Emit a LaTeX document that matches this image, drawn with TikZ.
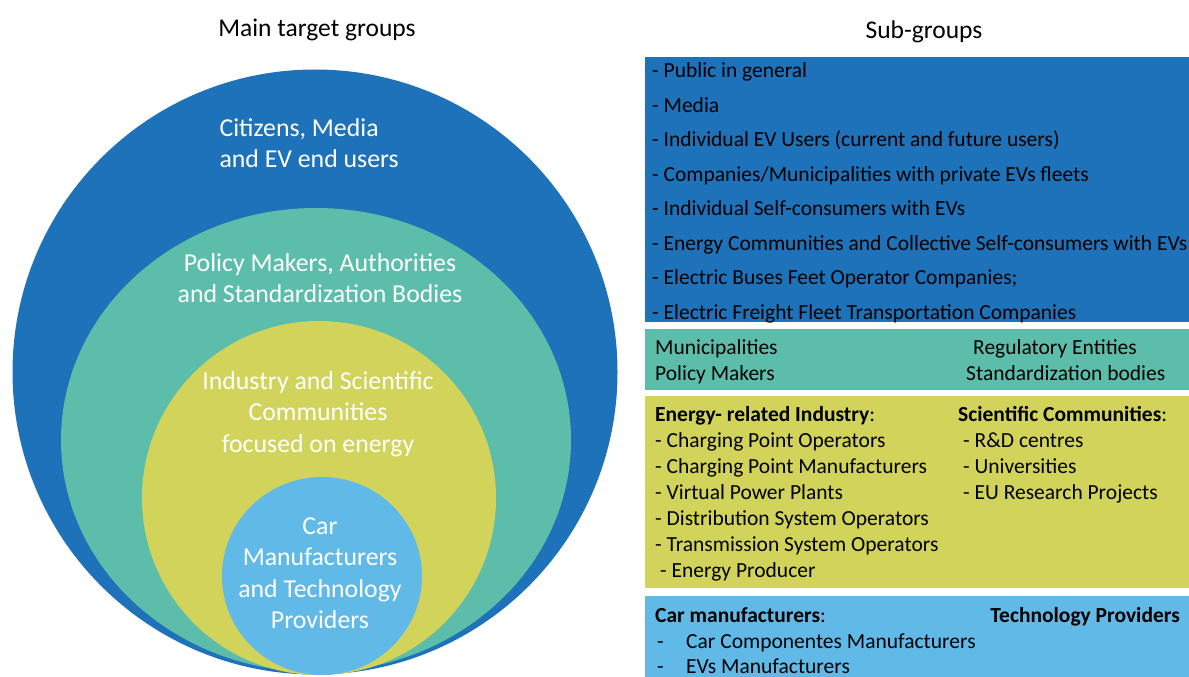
\documentclass[tikz,border=0pt]{standalone}
\usepackage{fontspec}
\setmainfont{Carlito}
\usetikzlibrary{shapes.geometric}

\definecolor{evblue}{RGB}{30,114,185}
\definecolor{evteal}{RGB}{92,190,170}
\definecolor{evyellow}{RGB}{209,211,90}
\definecolor{evsky}{RGB}{96,185,230}

\begin{document}
\begin{tikzpicture}[x=1pt,y=-1pt,
	ring/.style={ellipse, inner sep=0pt},
	ringtext/.style={text=white, align=center, font=\fontsize{25.8}{31.5}\selectfont},
	head/.style={font=\fontsize{25.5}{30}\selectfont},
	box/.style={rectangle, anchor=north west, minimum width=544pt, inner sep=0pt},
	item/.style={anchor=west, inner sep=0pt, text height=18pt, text depth=3pt,
		font=\fontsize{21.5}{26}\selectfont}]
	\useasboundingbox[fill=white] (0,0) rectangle (1189,677);

	% nested target groups
	\node[ring, fill=evblue, minimum width=605pt, minimum height=605pt] (citizens) at (315,372) {};
	\node[ring, fill=evteal, minimum width=510pt, minimum height=464pt] (policy) at (316,440) {};
	\node[ring, fill=evyellow, minimum width=354pt, minimum height=354pt] (industry) at (319,498) {};
	\node[ring, fill=evsky, minimum width=200pt, minimum height=198pt] (carmakers) at (322,576) {};

	\node[ringtext, align=left, anchor=west] (citizenstxt) at (216,143) {Citizens, Media\\and EV end users};
	\node[ringtext] (policytxt) at (320,278) {Policy Makers, Authorities\\and Standardization Bodies};
	\node[ringtext] (industrytxt) at (318,414) {Industry and Scientific\\Communities\\focused on energy};
	\node[ringtext] (carmakerstxt) at (320,573) {Car\\Manufacturers\\and Technology\\Providers};

	\node[head] (maintitle) at (317,30) {Main target groups};
	\node[head] (subtitle) at (924,32) {Sub-groups};

	% sub-group boxes
	\node[box, fill=evblue, minimum height=265pt] (citizensbox) at (645,57) {};
	\node[box, fill=evteal, minimum height=61pt] (policybox) at (645,329) {};
	\node[box, fill=evyellow, minimum height=192pt] (industrybox) at (645,396) {};
	\node[box, fill=evsky, minimum height=81pt] (carmakersbox) at (645,596) {};

	\foreach \txt [count=\i] in {- Public in general, - Media,
		- Individual EV Users (current and future users),
		- Companies/Municipalities with private EVs fleets,
		- Individual Self-consumers with EVs,
		- Energy Communities and Collective Self-consumers with EVs,
		- Electric Buses Feet Operator Companies;,
		- Electric Freight Fleet Transportation Companies}
		\node[item] (cit\i) at (652,{70+34.5*\i-34.5}) {\txt};

	\node[item] (muni) at (655,347) {Municipalities};
	\node[item] (makers) at (655,373) {Policy Makers};
	\node[item] (regul) at (973,347) {Regulatory Entities};
	\node[item] (stand) at (966,373) {Standardization bodies};

	\node[item] (enhead) at (655,414) {\textbf{Energy- related Industry}:};
	\foreach \txt [count=\i] in {- Charging Point Operators,
		- Charging Point Manufacturers, - Virtual Power Plants,
		- Distribution System Operators, - Transmission System Operators}
		\node[item] (en\i) at (655,{440+26*\i-26}) {\txt};
	\node[item] (en6) at (660,570) {- Energy Producer};

	\node[item] (scihead) at (958,414) {\textbf{Scientific Communities}:};
	\foreach \txt [count=\i] in {- R\&D centres, - Universities, - EU Research Projects}
		\node[item] (sci\i) at (963,{440+26*\i-26}) {\txt};

	\node[item] (carhead) at (655,615) {\textbf{Car manufacturers}:};
	\node[item, anchor=east] (techhead) at (1180,615) {\textbf{Technology Providers}};
	\foreach \txt [count=\i] in {Car Componentes Manufacturers, EVs Manufacturers} {
		\node[item] (cardash\i) at (657,{641+25*\i-25}) {-};
		\node[item] (car\i) at (686,{641+25*\i-25}) {\txt};
	}
\end{tikzpicture}
\end{document}
